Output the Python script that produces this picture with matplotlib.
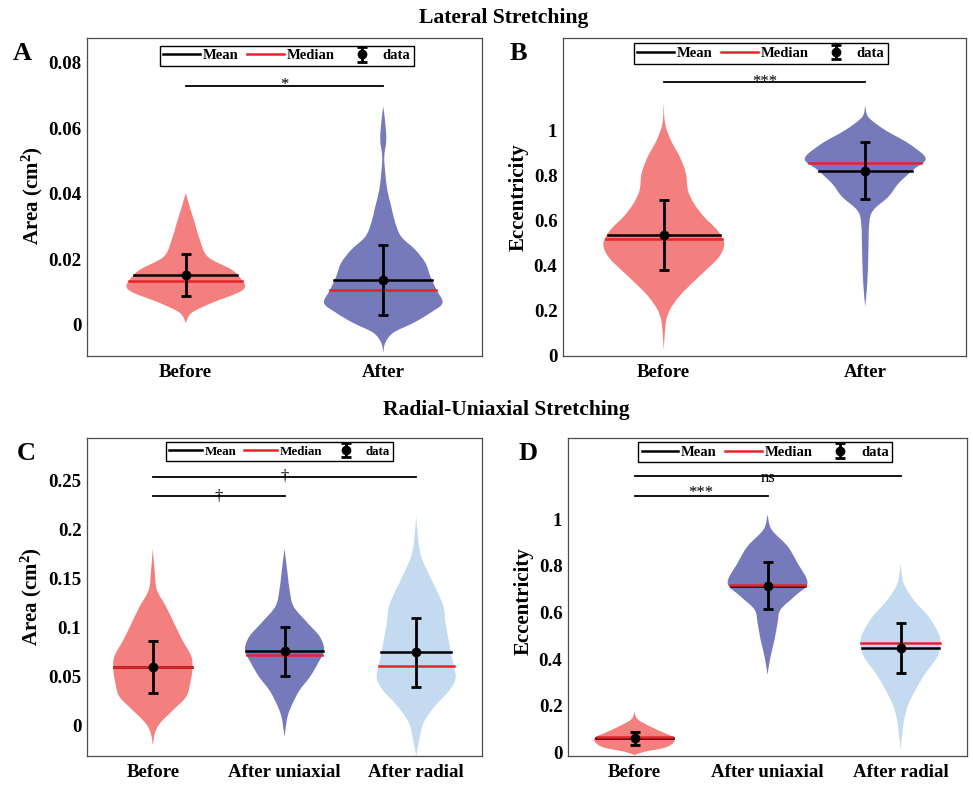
import numpy as np
import matplotlib
matplotlib.use("Agg")
import matplotlib.pyplot as plt
from matplotlib.lines import Line2D
from matplotlib.path import Path
from matplotlib.patches import PathPatch

plt.rcParams["font.family"] = "Liberation Serif"
plt.rcParams["font.weight"] = "bold"
plt.rcParams["mathtext.fontset"] = "custom"
plt.rcParams["mathtext.rm"] = "Liberation Serif:bold"
plt.rcParams["mathtext.it"] = "Liberation Serif:bold"
plt.rcParams["mathtext.bf"] = "Liberation Serif:bold"

# ---- Panel A: lateral stretching, area
a_labels = ["Before", "After"]
a_mean = [0.0152, 0.0136]
a_median = [0.0134, 0.0107]
a_err_hi = [0.0215, 0.0243]
a_err_lo = [0.0088, 0.0030]
a_before_y = [0.0403, 0.0360, 0.0311, 0.0260, 0.0208, 0.0168, 0.0137, 0.0116, 0.0098, 0.0067, 0.0037, 0.0006]
a_before_d = [0, 4, 9, 14, 22, 46, 56, 59, 52, 26, 6, 0]
a_after_y = [0.0667, 0.0617, 0.0565, 0.0513, 0.0464, 0.0412, 0.0361, 0.0311, 0.0269, 0.0229,
             0.0189, 0.0147, 0.0107, 0.0067, 0.0037, 0.0006, -0.0024, -0.0055, -0.0085]
a_after_d = [0, 2, 3, 1, 2, 4, 8, 12, 18, 32, 42, 47, 53, 59, 47, 30, 10, 2, 0]

# ---- Panel B: lateral stretching, eccentricity
b_labels = ["Before", "After"]
b_mean = [0.533, 0.819]
b_median = [0.516, 0.856]
b_err_hi = [0.689, 0.948]
b_err_lo = [0.378, 0.692]
b_before_y = [1.126, 1.030, 0.956, 0.881, 0.807, 0.733, 0.674, 0.615, 0.556, 0.496, 0.437,
              0.378, 0.319, 0.259, 0.200, 0.141, 0.022]
b_before_d = [0, 1.3, 7, 16, 22, 24, 30, 40, 53, 60, 55, 42, 28, 15, 6, 2, 0]
b_after_y = [1.111, 1.059, 1.000, 0.941, 0.874, 0.822, 0.763, 0.704, 0.644, 0.585, 0.437, 0.319, 0.215]
b_after_d = [0, 3, 20, 43, 60, 47, 33, 23, 8, 4, 3, 2, 0]

# ---- Panel C: radial-uniaxial stretching, area
c_labels = ["Before", "After uniaxial", "After radial"]
c_mean = [0.0589, 0.0752, 0.0742]
c_median = [0.0595, 0.0711, 0.0602]
c_err_hi = [0.0857, 0.1003, 0.1095]
c_err_lo = [0.0323, 0.0503, 0.0391]
c_before_y = [0.180, 0.155, 0.138, 0.121, 0.104, 0.087, 0.070, 0.056, 0.043, 0.029, 0.0153, 0.0017, -0.0085, -0.0204]
c_before_d = [0, 2, 4, 13, 21, 29, 38, 39, 37, 33, 20, 7, 2, 0]
c_uni_y = [0.180, 0.155, 0.138, 0.121, 0.104, 0.090, 0.0765, 0.063, 0.049, 0.0357, 0.022, 0.0085, -0.012]
c_uni_d = [0, 3, 5, 9, 23, 35, 39, 33, 25, 15, 8, 3, 0]
c_rad_y = [0.214, 0.189, 0.172, 0.155, 0.138, 0.121, 0.104, 0.087, 0.070, 0.049, 0.0357, 0.0187, 0.0017, -0.0153, -0.032]
c_rad_d = [0, 2, 5, 12, 20, 27, 29, 32, 35, 39, 33, 18, 7, 3, 0]

# ---- Panel D: radial-uniaxial stretching, eccentricity
d_labels = ["Before", "After uniaxial", "After radial"]
d_mean = [0.062, 0.714, 0.448]
d_median = [0.064, 0.718, 0.470]
d_err_hi = [0.088, 0.819, 0.555]
d_err_lo = [0.030, 0.613, 0.340]
d_before_y = [0.174, 0.138, 0.095, 0.059, 0.023, 0.0014, -0.013]
d_before_d = [0, 4, 23, 40, 33, 10, 0]
d_uni_y = [1.021, 0.957, 0.885, 0.813, 0.727, 0.669, 0.612, 0.555, 0.483, 0.411, 0.332]
d_uni_d = [0, 4, 20, 30, 40, 27, 13, 10, 7, 3, 0]
d_rad_y = [0.813, 0.727, 0.655, 0.583, 0.512, 0.469, 0.411, 0.339, 0.267, 0.195, 0.124, 0.009]
d_rad_d = [0, 3, 13, 28, 38, 40, 37, 25, 15, 7, 3, 0]

PINK = "#F47F7F"
PURPLE = "#767ABA"
LIGHTBLUE = "#C4DAF0"
RED = "#E8232B"
HALF = 0.3


def violin(ax, x, ys, dens, color):
    ys = np.asarray(ys, float)
    w = np.asarray(dens, float)
    w = w / w.max() * HALF
    order = np.argsort(ys)
    ys, w = ys[order], w[order]
    # smooth outline through the read points (Catmull-Rom as cubic Bezier)
    pts = np.column_stack([w, ys])
    P = np.vstack([pts[0], pts, pts[-1]])
    side = [pts[0]]
    for i in range(len(pts) - 1):
        p0, p1, p2, p3 = P[i], P[i + 1], P[i + 2], P[i + 3]
        c1 = p1 + (p2 - p0) / 6
        c2 = p2 - (p3 - p1) / 6
        c1[0] = max(c1[0], 0)
        c2[0] = max(c2[0], 0)
        side += [c1, c2, p2]
    side = np.array(side)
    right = side.copy()
    right[:, 0] = x + right[:, 0]
    left = side[::-1].copy()
    left[:, 0] = x - left[:, 0]
    verts = np.vstack([right, left, right[:1]])
    n = len(side)
    codes = ([Path.MOVETO] + [Path.CURVE4] * (n - 1) +
             [Path.LINETO] + [Path.CURVE4] * (n - 1) + [Path.CLOSEPOLY])
    ax.add_patch(PathPatch(Path(verts, codes), facecolor=color, lw=0, zorder=1))
    return lambda v: np.interp(v, ys, w)


def panel(ax, labels, means, medians, lo, hi, profiles, colors, ylim, yticks, ytl,
          leg_fs, leg_anchor):
    eb = None
    for i, (ys, ds) in enumerate(profiles):
        x = i + 1
        width_at = violin(ax, x, ys, ds, colors[i])
        hw = width_at(means[i])
        ax.plot([x - hw, x + hw], [means[i], means[i]], color="k", lw=1.8, zorder=2)
        hw = width_at(medians[i])
        ax.plot([x - hw, x + hw], [medians[i], medians[i]], color=RED, lw=1.8, zorder=3)
        eb = ax.errorbar(x, means[i], yerr=[[means[i] - lo[i]], [hi[i] - means[i]]],
                         fmt="o", color="k", ms=6, capsize=3.5, elinewidth=2,
                         capthick=2, zorder=4)
    ax.set_xlim(0.5, len(labels) + 0.5)
    ax.set_ylim(*ylim)
    ax.set_xticks(range(1, len(labels) + 1))
    ax.set_xticklabels(labels)
    ax.set_yticks(yticks)
    ax.set_yticklabels(ytl)
    ax.tick_params(axis="both", length=0, labelsize=13.6)
    ax.tick_params(axis="x", pad=6)
    ax.tick_params(axis="y", pad=4)
    for sp in ax.spines.values():
        sp.set_color("#4d4d4d")
        sp.set_linewidth(0.9)
    handles = [Line2D([], [], color="k", lw=1.8), Line2D([], [], color=RED, lw=1.8), eb]
    leg = ax.legend(handles, ["Mean", "Median", "data"], loc="upper center",
                    bbox_to_anchor=leg_anchor, ncol=3, fontsize=leg_fs, frameon=True,
                    fancybox=False, edgecolor="k", framealpha=1, handlelength=2.5,
                    handletextpad=0.2, columnspacing=0.6, borderpad=0.25,
                    borderaxespad=0)
    leg.get_frame().set_linewidth(1.0)


def sig(ax, x1, x2, y, text, dy=0):
    ax.plot([x1, x2], [y, y], color="k", lw=1.3, clip_on=False, zorder=5)
    ax.annotate(text, ((x1 + x2) / 2, y), xytext=(0, dy), textcoords="offset points",
                ha="center", va="baseline", fontsize=12, fontweight="normal")


fig = plt.figure(figsize=(9.73, 7.85), dpi=100)
axA = fig.add_axes([0.0894, 0.5465, 0.406, 0.4051])
axB = fig.add_axes([0.5786, 0.5465, 0.4142, 0.4051])
axC = fig.add_axes([0.0894, 0.0369, 0.406, 0.4051])
axD = fig.add_axes([0.5838, 0.0369, 0.4101, 0.4051])

panel(axA, a_labels, a_mean, a_median, a_err_lo, a_err_hi,
      [(a_before_y, a_before_d), (a_after_y, a_after_d)], [PINK, PURPLE],
      (-0.0095, 0.0876), [0, 0.02, 0.04, 0.06, 0.08], ["0", "0.02", "0.04", "0.06", "0.08"],
      10.5, (0.506, 0.976))
panel(axB, b_labels, b_mean, b_median, b_err_lo, b_err_hi,
      [(b_before_y, b_before_d), (b_after_y, b_after_d)], [PINK, PURPLE],
      (-0.004, 1.41), [0, 0.2, 0.4, 0.6, 0.8, 1], ["0", "0.2", "0.4", "0.6", "0.8", "1"],
      10.5, (0.491, 0.984))
panel(axC, c_labels, c_mean, c_median, c_err_lo, c_err_hi,
      [(c_before_y, c_before_d), (c_uni_y, c_uni_d), (c_rad_y, c_rad_d)],
      [PINK, PURPLE, LIGHTBLUE],
      (-0.0316, 0.2929), [0, 0.05, 0.1, 0.15, 0.2, 0.25],
      ["0", "0.05", "0.1", "0.15", "0.2", "0.25"], 9.4, (0.487, 0.987))
panel(axD, d_labels, d_mean, d_median, d_err_lo, d_err_hi,
      [(d_before_y, d_before_d), (d_uni_y, d_uni_d), (d_rad_y, d_rad_d)],
      [PINK, PURPLE, LIGHTBLUE],
      (-0.017, 1.35), [0, 0.2, 0.4, 0.6, 0.8, 1], ["0", "0.2", "0.4", "0.6", "0.8", "1"],
      10.5, (0.494, 0.988))

sig(axA, 1, 2, 0.0728, "*", dy=-2)
sig(axB, 1, 2, 1.213, "***", dy=-2.5)
sig(axC, 1, 3, 0.2534, "\u2020", dy=-3)
sig(axC, 1, 2, 0.2334, "\u2020", dy=-3)
sig(axD, 1, 3, 1.185, "ns", dy=-4)
sig(axD, 1, 2, 1.102, "***", dy=-1)

# titles, panel letters, y labels
fig.text(0.518, 0.9703, "Lateral Stretching", ha="center", va="baseline", fontsize=15.6)
fig.text(0.520, 0.4713, "Radial-Uniaxial Stretching", ha="center", va="baseline", fontsize=15.5)
for x, y, s in [(0.0134, 0.9236, "A"), (0.524, 0.9236, "B"),
                (0.0175, 0.414, "C"), (0.5334, 0.414, "D")]:
    fig.text(x, y, s, ha="left", va="baseline", fontsize=19)

fig.text(0.0329, 0.7503, r"Area (cm$^2$)", rotation=90, ha="center", va="center", fontsize=15)
fig.text(0.533, 0.7490, "Eccentricity", rotation=90, ha="center", va="center", fontsize=15)
fig.text(0.0318, 0.2395, r"Area (cm$^2$)", rotation=90, ha="center", va="center", fontsize=15)
fig.text(0.5385, 0.2340, "Eccentricity", rotation=90, ha="center", va="center", fontsize=15)

fig.savefig("out.png", dpi=100)
